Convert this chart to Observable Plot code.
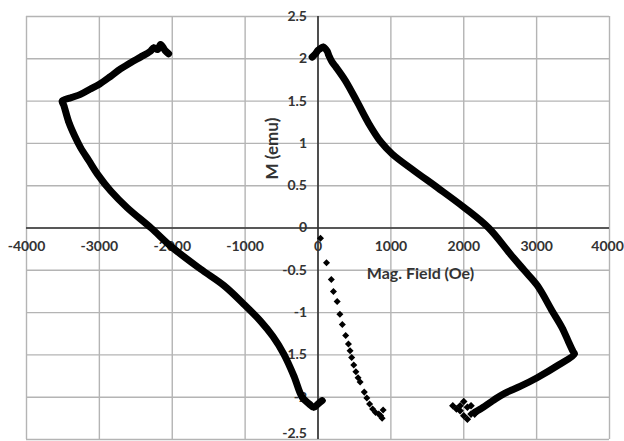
<!DOCTYPE html>
<html>
<head>
<meta charset="utf-8">
<script src="https://cdn.jsdelivr.net/npm/d3@7"></script>
<script src="https://cdn.jsdelivr.net/npm/@observablehq/plot@0.6"></script>
<style>
  html, body { margin: 0; padding: 0; background: #fff; }
  #chart { width: 624px; height: 441px; overflow: hidden; }
</style>
</head>
<body>
<div id="chart"></div>
<script>
// Tick values / labels
const xTicks = [-4000, -3000, -2000, -1000, 0, 1000, 2000, 3000, 4000];
const yTicks = [-2.5, -2, -1.5, -1, -0.5, 0, 0.5, 1, 1.5, 2, 2.5];
const xTickLabels = ["-4000", "-3000", "-2000", "-1000", "0", "1000", "2000", "3000", "4000"];
const yTickLabels = ["-2.5", "-2", "-1.5", "-1", "-0.5", "0", "0.5", "1", "1.5", "2", "2.5"];
const xTitle = "Mag. Field (Oe)";
const yTitle = "M (emu)";

// Left (descending-field) branch, Oe / emu
const leftH = [-2050, -2100, -2160, -2200, -2253, -2300, -2435, -2560, -2710, -2850, -3000, -3130, -3260, -3390, -3510,
  -3488, -3419, -3340, -3258, -3140, -3029, -2847, -2618, -2290, -2000, -1612, -1292, -1018, -789, -620, -469, -330, -217, -120, -58, 0, 58];
const leftM = [2.06, 2.10, 2.17, 2.11, 2.13, 2.09, 2.02, 1.96, 1.88, 1.79, 1.70, 1.64, 1.58, 1.54, 1.50,
  1.45, 1.25, 1.09, 0.95, 0.79, 0.64, 0.44, 0.24, 0.00, -0.23, -0.485, -0.68, -0.90, -1.10, -1.28, -1.49, -1.75, -2.00, -2.08, -2.12, -2.08, -2.04];

// Right (ascending-field) branch
const rightH = [-80, -34, 0, 34, 71, 126, 148, 195, 240, 377, 538, 700, 860, 1018, 1314, 1635, 2010, 2343, 2641, 2830, 3010, 3213, 3350, 3440, 3500, 3519,
  3300, 3007, 2780, 2549, 2400, 2229, 2150];
const rightM = [2.02, 2.06, 2.10, 2.12, 2.14, 2.09, 2.04, 1.96, 1.91, 1.74, 1.49, 1.23, 1.02, 0.875, 0.68, 0.48, 0.24, 0.00, -0.31, -0.50, -0.68, -0.98, -1.18, -1.35, -1.46, -1.49,
  -1.62, -1.77, -1.87, -1.96, -2.04, -2.14, -2.18];

// Cluster at end of right branch
const clusterH = [1850, 1900, 1950, 2000, 2050, 2100, 2000, 2050, 2150, 1950, 2100];
const clusterM = [-2.10, -2.14, -2.10, -2.05, -2.12, -2.20, -2.22, -2.26, -2.20, -2.16, -2.10];

// Initial (virgin) curve, sparse points
const initH = [34, 117, 183, 212, 263, 300, 334, 380, 418, 440, 462, 491, 520, 550, 578, 635, 670, 708, 750, 790, 834, 880, 894, 860];
const initM = [-0.12, -0.41, -0.61, -0.75, -0.87, -1.02, -1.14, -1.27, -1.37, -1.45, -1.53, -1.62, -1.70, -1.77, -1.82, -1.94, -2.01, -2.08, -2.14, -2.18, -2.20, -2.25, -2.15, -2.22];

const toPts = (H, M) => H.map((h, i) => ({h, m: M[i]}));
const left = toPts(leftH, leftM);
const right = toPts(rightH, rightM);
const cluster = toPts(clusterH, clusterM);
const init = toPts(initH, initM);
const xt = xTicks.map((v, i) => ({v, t: xTickLabels[i]}));
const yt = yTicks.map((v, i) => ({v, t: yTickLabels[i]}));
const xtMain = xt.filter(d => d.v !== 4000);
const xtEdge = xt.filter(d => d.v === 4000);
const ytMain = yt.filter(d => d.v !== -2.5);
const ytEdge = yt.filter(d => d.v === -2.5);

const font = "Lato, 'Open Sans', sans-serif";
const txt = "#333";
const tickStyle = {fontSize: 14, fontWeight: "bold", fill: txt};

const chart = Plot.plot({
  width: 624,
  height: 441,
  marginLeft: 26,
  marginRight: 15,
  marginTop: 16,
  marginBottom: 2,
  style: {fontFamily: font, background: "#fff", overflow: "visible"},
  x: {domain: [-4000, 4000], axis: null},
  y: {domain: [-2.5, 2.5], axis: null},
  marks: [
    Plot.ruleX(xTicks, {stroke: "#b4b4b4", strokeWidth: 1.4}),
    Plot.ruleY(yTicks, {stroke: "#b4b4b4", strokeWidth: 1.4}),
    Plot.ruleX([0], {stroke: "#1a1a1a", strokeWidth: 1.4}),
    Plot.ruleY([0], {stroke: "#333", strokeWidth: 1.4}),
    Plot.text(xtMain, {x: "v", y: () => 0, text: "t", dy: 19, ...tickStyle}),
    Plot.text(xtEdge, {x: "v", y: () => 0, text: "t", dy: 19, dx: -2, ...tickStyle}),
    Plot.text(ytMain, {x: () => 0, y: "v", text: "t", dx: -11, textAnchor: "end", ...tickStyle}),
    Plot.text(ytEdge, {x: () => 0, y: "v", text: "t", dx: -11, dy: -6, textAnchor: "end", ...tickStyle}),
    Plot.text([xTitle], {x: () => 1406, y: () => -0.54, text: d => d, fontSize: 16, fontWeight: "bold", fill: txt}),
    Plot.text([yTitle], {x: () => -625, y: () => 0.94, text: d => d, rotate: -90, fontSize: 17, fontWeight: "bold", fill: txt}),
    Plot.line(left, {x: "h", y: "m", stroke: "#000", strokeWidth: 7, curve: "catmull-rom", strokeLinejoin: "round", strokeLinecap: "round"}),
    Plot.line(right, {x: "h", y: "m", stroke: "#000", strokeWidth: 7, curve: "catmull-rom", strokeLinejoin: "round", strokeLinecap: "round"}),
    Plot.dot(left, {x: "h", y: "m", symbol: "square", rotate: 45, r: 2.8, fill: "#000"}),
    Plot.dot(right, {x: "h", y: "m", symbol: "square", rotate: 45, r: 2.8, fill: "#000"}),
    Plot.dot(cluster, {x: "h", y: "m", symbol: "square", rotate: 45, r: 3, fill: "#000"}),
    Plot.dot(init, {x: "h", y: "m", symbol: "square", rotate: 45, r: 2.8, fill: "#000"})
  ]
});
document.getElementById("chart").appendChild(chart);
</script>
</body>
</html>
